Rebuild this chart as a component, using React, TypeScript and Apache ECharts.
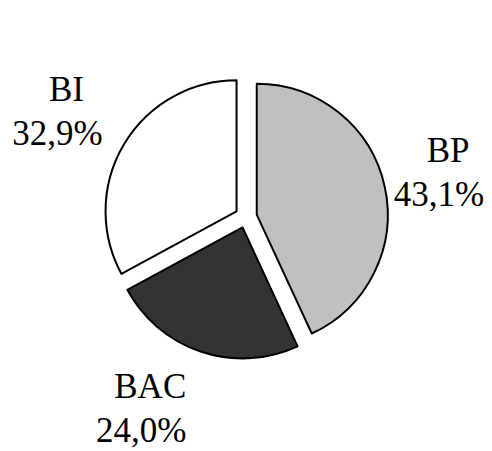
import React, { useEffect, useRef } from "react";
import * as echarts from "echarts";

const categories = ["BP", "BAC", "BI"];
const values = [43.1, 24.0, 32.9];
const valueLabels = ["43,1%", "24,0%", "32,9%"];
const colors = ["#c0c0c0", "#333333", "#ffffff"];

// label placement (style): distance from pie centre and angular nudge in degrees
const labelDist = [198, 218.4, 216.3];
const labelAngleShift = [-0.44, 10.3, -1.45];

const CX = 246;
const CY = 217;
const LINE_GAP = 44;
const NAME_SHIFT = 9;

export default function App() {
  const ref = useRef<HTMLDivElement>(null);
  useEffect(() => {
    document.body.style.margin = "0";
    const chart = echarts.init(ref.current!, null, { renderer: "svg" });
    const total = values.reduce((a, b) => a + b, 0);
    const mids: number[] = [];
    let acc = 0;
    values.forEach((v) => {
      mids.push(((acc + v / 2) / total) * 360);
      acc += v;
    });
    const font = '35px "Liberation Serif", "Times New Roman", serif';
    const texts: any[] = [];
    categories.forEach((c, i) => {
      const a = ((mids[i] + labelAngleShift[i]) * Math.PI) / 180;
      const x = CX + labelDist[i] * Math.sin(a);
      const y = CY - labelDist[i] * Math.cos(a);
      texts.push({
        type: "text",
        silent: true,
        style: {
          text: c,
          x: x + NAME_SHIFT,
          y: y - LINE_GAP / 2,
          font,
          fill: "#000000",
          align: "center",
          verticalAlign: "middle",
          textAlign: "center",
          textVerticalAlign: "middle",
        },
      });
      texts.push({
        type: "text",
        silent: true,
        style: {
          text: valueLabels[i],
          x,
          y: y + LINE_GAP / 2,
          font,
          fill: "#000000",
          align: "center",
          verticalAlign: "middle",
          textAlign: "center",
          textVerticalAlign: "middle",
        },
      });
    });
    chart.setOption({
      animation: false,
      backgroundColor: "#ffffff",
      graphic: { elements: texts },
      series: [
        {
          type: "pie",
          center: [CX, CY],
          radius: 131,
          startAngle: 90,
          clockwise: true,
          selectedMode: "multiple",
          selectedOffset: 11,
          emphasis: { disabled: true, scale: false },
          itemStyle: { borderColor: "#000000", borderWidth: 2 },
          label: { show: false },
          labelLine: { show: false },
          data: categories.map((c, i) => ({
            name: c,
            value: values[i],
            selected: true,
            itemStyle: { color: colors[i] },
          })),
        },
      ],
    });
    return () => chart.dispose();
  }, []);
  return <div ref={ref} style={{ width: 492, height: 451 }} />;
}
